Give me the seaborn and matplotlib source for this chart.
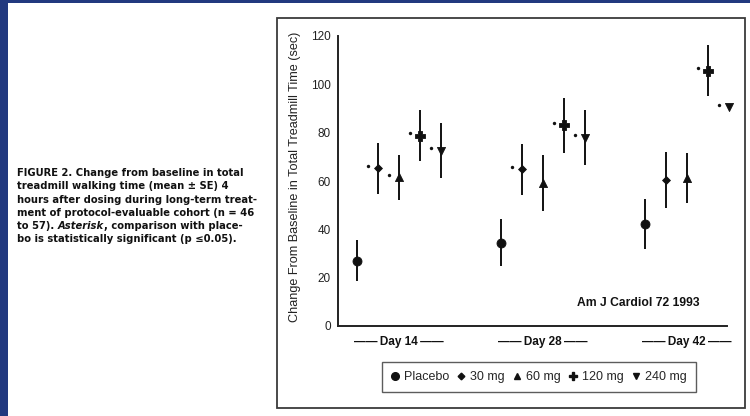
"""
Treadmill walking time vs baseline, by dose and study day (slide reproduction).
"""

import numpy as np
import pandas as pd
import matplotlib.pyplot as plt
import seaborn as sns
from matplotlib.lines import Line2D
from matplotlib.patches import Rectangle

# --- data ---------------------------------------------------------------
days = ["Day 14", "Day 28", "Day 42"]
doses = ["Placebo", "30 mg", "60 mg", "120 mg", "240 mg"]

placebo_mean = [27.0, 34.5, 42.2]
mg30_mean = [65.2, 64.8, 60.4]
mg60_mean = [61.5, 59.3, 61.4]
mg120_mean = [78.8, 83.0, 105.7]
mg240_mean = [72.5, 77.9, 90.5]

placebo_se = [8.5, 9.7, 10.2]
mg30_se = [10.7, 10.4, 11.5]
mg60_se = [9.4, 11.6, 10.3]
mg120_se = [10.5, 11.3, 10.7]
mg240_se = [11.3, 11.4, 14.8]

# asterisk = significant vs placebo
placebo_sig = [False, False, False]
mg30_sig = [True, True, False]
mg60_sig = [True, False, False]
mg120_sig = [True, True, True]
mg240_sig = [True, True, True]

caption = [
    "FIGURE 2. Change from baseline in total",
    "treadmill walking time (mean \u00b1 SE) 4",
    "hours after dosing during long-term treat-",
    "ment of protocol-evaluable cohort (n = 46",
    None,  # mixed italic line, drawn separately
    "bo is statistically significant (p \u22640.05).",
]

# --- tidy table -------------------------------------------------------------
means = [placebo_mean, mg30_mean, mg60_mean, mg120_mean, mg240_mean]
ses = [placebo_se, mg30_se, mg60_se, mg120_se, mg240_se]
sigs = [placebo_sig, mg30_sig, mg60_sig, mg120_sig, mg240_sig]

rows = []
for di, dose in enumerate(doses):
    for gi, day in enumerate(days):
        rows.append(dict(day=day, dose=dose, g=gi, d=di,
                         mean=means[di][gi], se=ses[di][gi], sig=sigs[di][gi]))
df = pd.DataFrame(rows)

STEP = 0.146  # dodge between doses, in group units
df["x"] = df["g"] + (df["d"] - 2) * STEP

markers = {"Placebo": "o", "30 mg": "D", "60 mg": "^", "120 mg": "P", "240 mg": "v"}
sizes = {"Placebo": 42, "30 mg": 16, "60 mg": 34, "120 mg": 44, "240 mg": 34}
INK = "#111111"

# --- figure -----------------------------------------------------------------
sns.set_theme(style="white")
plt.rcParams["font.family"] = ["Liberation Sans", "DejaVu Sans"]

W, H = 750, 416
fig = plt.figure(figsize=(W / 100, H / 100), dpi=100)
fig.patch.set_facecolor("#22397f")
# white slide area, blue strip left and top
fig.add_artist(Rectangle((8 / W, 0), 1 - 8 / W, 1 - 3 / H, transform=fig.transFigure,
                         facecolor="white", edgecolor="none", zorder=0))
# scanned figure frame
fig.add_artist(Rectangle((277 / W, 8 / H), 468 / W, 390 / H, transform=fig.transFigure,
                         facecolor="none", edgecolor="#3a3a3a", lw=1.3, zorder=1))

ax = fig.add_axes([338 / W, 90 / H, 389 / W, 290 / H])
ax.set_facecolor("none")

ax.vlines(df["x"], df["mean"] - df["se"], df["mean"] + df["se"],
          color=INK, lw=1.4, zorder=2)
for dose in doses:
    sub = df[df["dose"] == dose]
    sns.scatterplot(data=sub, x="x", y="mean", marker=markers[dose], s=sizes[dose],
                    color=INK, edgecolor=INK, linewidth=0.6,
                    ax=ax, zorder=3, legend=False, clip_on=False)

sig = df[df["sig"]]
ax.scatter(sig["x"] - 0.07, sig["mean"] + 1.0, marker="o", s=6,
           color=INK, linewidths=0, zorder=3)

ax.set_xlim(-0.424, 2.278)
ax.set_ylim(0, 120)
ax.set_yticks(np.arange(0, 121, 20))
ax.tick_params(axis="y", length=0, pad=5, labelsize=8.5, labelcolor="#222222")
ax.set_xticks(range(len(days)))
ax.set_xticklabels([f"\u2014\u2014\u2009{d}\u2009\u2014\u2014" for d in days])
ax.tick_params(axis="x", length=0, pad=7, labelsize=8.5, labelcolor=INK)
for lab in ax.get_xticklabels():
    lab.set_fontweight("semibold")
ax.set_xlabel("")
ax.set_ylabel("Change From Baseline in Total Treadmill Time (sec)",
              fontsize=9.1, color="#222222")
ax.yaxis.set_label_coords(-0.095, 0.514)
sns.despine(ax=ax)
for side in ("left", "bottom"):
    ax.spines[side].set_color("#222222")
    ax.spines[side].set_linewidth(1.4)

ax.text(0.614, 0.079, "Am J Cardiol 72 1993", transform=ax.transAxes,
        fontsize=8.7, fontweight="bold", color=INK, va="center")

handles = [Line2D([], [], ls="none", marker=markers[d], color=INK,
                  markersize=np.sqrt(sizes[d]) * 0.85, label=d) for d in doses]
fig.legend(handles=handles, loc="center", bbox_to_anchor=(539 / W, 39 / H),
           ncol=5, frameon=True, fancybox=False, edgecolor="#333333",
           fontsize=9, handlelength=0.6, handletextpad=0.4, columnspacing=0.7,
           borderpad=0.75)

# caption on the left
CAP = dict(fontsize=7.2, fontweight="bold", color=INK, va="center",
           family=["DejaVu Sans"])
for i, line in enumerate(caption):
    if line is None:
        continue
    fig.text(17 / W, 1 - (173 + i * 13.3) / H, line, **CAP)
y5 = 1 - (173 + 4 * 13.3) / H
t1 = fig.text(17 / W, y5, "to 57). ", **CAP)
t2 = ax.annotate("Asterisk", xy=(1, 0.5), xycoords=t1, style="italic",
                 annotation_clip=False, **CAP)
ax.annotate(", comparison with place-", xy=(1, 0.5), xycoords=t2,
            annotation_clip=False, **CAP)

fig.savefig("out.png", dpi=100, facecolor=fig.get_facecolor())
